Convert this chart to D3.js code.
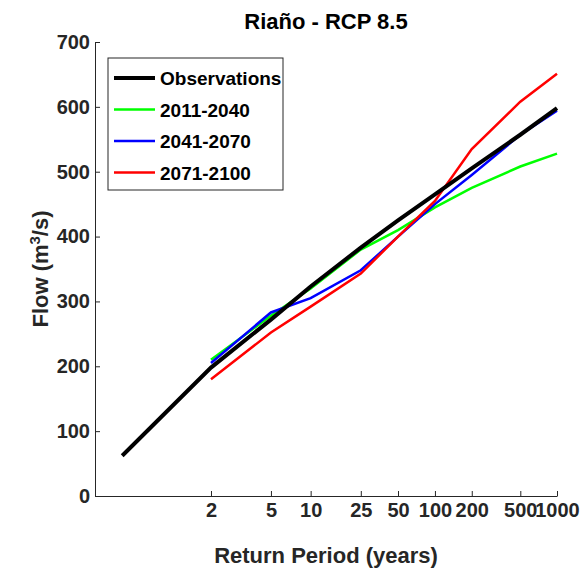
<!DOCTYPE html>
<html><head><meta charset="utf-8">
<script src="https://cdn.jsdelivr.net/npm/d3@7"></script>
<style>body{margin:0;background:#fff}text{font-family:"Liberation Sans Narrow","Arial Narrow",Arial,sans-serif;font-weight:bold}</style>
</head><body>
<svg id="c" width="582" height="571"></svg>
<script>
// return periods (years) and flows (m3/s)
const obsT = [1.025, 2, 5, 10, 25, 50, 100, 200, 500, 1000];
const obsQ = [62, 198, 272, 323, 383, 425, 465, 505, 557, 598];
const scenT = [2, 5, 10, 25, 50, 100, 200, 500, 1000];
const q2011 = [210, 278, 320, 380, 410, 445, 475, 508, 528];
const q2041 = [205, 283, 305, 348, 400, 450, 495, 557, 594];
const q2071 = [180, 252, 292, 343, 400, 455, 535, 608, 651];
const tickT = [2, 5, 10, 25, 50, 100, 200, 500, 1000];
const yTicks = [0, 100, 200, 300, 400, 500, 600, 700];

const gumbel = T => -Math.log(-Math.log(1 - 1 / T));
const svg = d3.select("#c");
const L = 95, R = 557, T0 = 42, B = 496;
const x = d3.scaleLinear().domain([-1.826, gumbel(1000)]).range([L, R]);
const y = d3.scaleLinear().domain([0, 700]).range([B, T0]);

const xa = svg.append("g").attr("transform", `translate(0,${B})`)
  .call(d3.axisBottom(x).tickValues(tickT.map(gumbel)).tickFormat((d, i) => tickT[i]).tickSizeInner(-5).tickSizeOuter(0));
const ya = svg.append("g").attr("transform", `translate(${L},0)`)
  .call(d3.axisLeft(y).tickValues(yTicks).tickSizeInner(-5).tickSizeOuter(0));
[xa, ya].forEach(a => {
  a.selectAll("text").style("font-size", "20px").attr("fill", "#262626");
  a.selectAll("line,path").attr("stroke", "#262626");
});
xa.selectAll("text").attr("dy", "0.9em");
ya.selectAll("text").attr("dx", "-0.1em");

const line = d3.line().x(d => x(gumbel(d[0]))).y(d => y(d[1]));
const series = [
  [scenT, q2011, "#00ff00", 2.5],
  [scenT, q2041, "#0000ff", 2.5],
  [scenT, q2071, "#ff0000", 2.5],
  [obsT, obsQ, "#000", 4]
];
series.forEach(([ts, qs, c, w]) => {
  svg.append("path").datum(ts.map((t, i) => [t, qs[i]]))
    .attr("d", line).attr("fill", "none").attr("stroke", c).attr("stroke-width", w);
});

svg.append("text").attr("x", 326).attr("y", 29).attr("text-anchor", "middle")
  .style("font-size", "22px").text("Riaño - RCP 8.5");
svg.append("text").attr("x", 326).attr("y", 563).attr("text-anchor", "middle")
  .style("font-size", "22px").attr("fill", "#262626").text("Return Period (years)");
const yl = svg.append("text").attr("transform", "translate(48,269) rotate(-90)")
  .attr("text-anchor", "middle").style("font-size", "22px").attr("fill", "#262626");
yl.append("tspan").text("Flow (m");
yl.append("tspan").attr("dy", -8).style("font-size", "15px").text("3");
yl.append("tspan").attr("dy", 8).text("/s)");

const leg = svg.append("g");
leg.append("rect").attr("x", 108).attr("y", 58).attr("width", 175).attr("height", 132)
  .attr("fill", "#fff").attr("stroke", "#262626");
[["Observations", "#000", 4], ["2011-2040", "#00ff00", 2.5], ["2041-2070", "#0000ff", 2.5], ["2071-2100", "#ff0000", 2.5]]
  .forEach(([n, c, w], i) => {
    const yy = 78 + i * 31.5;
    leg.append("line").attr("x1", 114).attr("x2", 155).attr("y1", yy).attr("y2", yy).attr("stroke", c).attr("stroke-width", w);
    leg.append("text").attr("x", 160).attr("y", yy + 7).style("font-size", "19px").text(n);
  });
</script>
</body></html>
